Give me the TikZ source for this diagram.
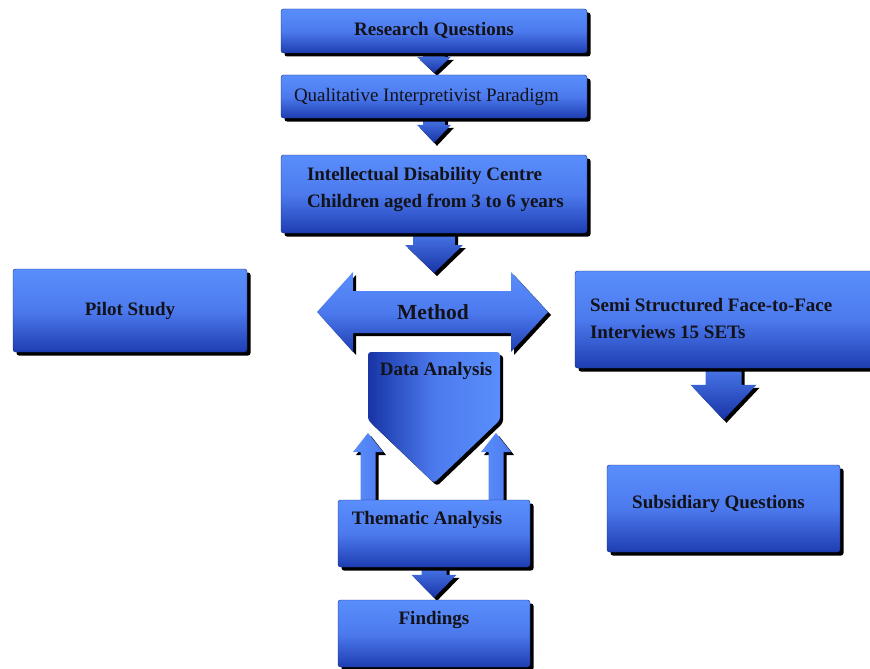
\documentclass[tikz,border=0pt]{standalone}
\usepackage{fontspec}
\setmainfont{Liberation Serif}
\usetikzlibrary{calc,shadows}
\definecolor{bxtop}{RGB}{90,142,252}
\definecolor{bxmid}{RGB}{76,122,238}
\definecolor{bxbot}{RGB}{30,62,178}
\definecolor{artop}{RGB}{72,118,232}
\definecolor{arbot}{RGB}{24,52,165}
\definecolor{txt}{RGB}{18,18,24}
\newcommand\blkshape[3]{($(bs)+({-(#1)},0)$) -- ($(bt)+({-(#1)},{-(#3)})$) -- ($(bt)+({-(#2)},{-(#3)})$) -- (bt) -- ($(bt)+(#2,{-(#3)})$) -- ($(bt)+(#1,{-(#3)})$) -- ($(bs)+(#1,0)$) -- cycle}
\newcommand\blkarrow[6]{%
  \coordinate (bt) at #2;
  \coordinate (bs) at (#1 -| bt);
  \fill[black, transform canvas={shift={(3pt,-3pt)}}] \blkshape{#3}{#4}{#5};
  \shade[#6] \blkshape{#3}{#4}{#5};
}
\tikzset{
  box/.style={rectangle, rounded corners=2.5pt, top color=bxtop, bottom color=bxbot, middle color=bxmid,
    draw=bxbot!70!black, line width=0.4pt, inner sep=0pt,
    drop shadow={fill=black, opacity=1, shadow xshift=3.5pt, shadow yshift=-3.5pt}},
  lbl/.style={font=\bfseries\fontsize{19}{27}\selectfont, text=txt, inner sep=0pt, align=left},
  arshade/.style={top color=artop, bottom color=arbot},
  upshade/.style={left color=bxtop, right color=bxmid},
}
\begin{document}
\begin{tikzpicture}[x=1pt,y=-1pt]
\useasboundingbox (0,0) rectangle (870,669);
% coordinates for box positions
\coordinate (prq) at (434,31);
\coordinate (pqp) at (434,96.5);
\coordinate (pidc) at (434,194);
% boxes (defined first as nodes but drawn after arrows via layering order)
\path (prq) node[minimum width=306pt, minimum height=44pt] (rq0) {};
\path (pqp) node[minimum width=306pt, minimum height=43pt] (qp0) {};
\path (pidc) node[minimum width=306pt, minimum height=78pt] (idc0) {};
\path (434,533.5) node[minimum width=192pt, minimum height=67pt] (th0) {};
\path (434,633.5) node[minimum width=192pt, minimum height=67pt] (fi0) {};
\path (725,319.5) node[minimum width=300pt, minimum height=97pt] (se0) {};
\path (723.5,508.5) node[minimum width=233pt, minimum height=87pt] (sq0) {};
% block arrows
\blkarrow{rq0.south}{($(qp0.north)+(0,-2)$)}{11}{17}{16}{arshade}
\blkarrow{qp0.south}{($(idc0.north)+(0,-12)$)}{11}{17}{18}{arshade}
\blkarrow{idc0.south}{(434,273)}{21}{29}{28}{arshade}
\blkarrow{se0.south}{($(sq0.north)+(0,-45)$)}{18}{33}{35}{arshade}
\blkarrow{th0.south}{($(fi0.north)+(0,-2)$)}{12.5}{22.5}{23}{arshade}
\blkarrow{th0.north}{(368,433)}{7.5}{15}{-19}{upshade}
\blkarrow{th0.north}{(496,433)}{7.5}{15}{-19}{upshade}
% method double arrow
\fill[black, transform canvas={shift={(3pt,-3pt)}}] (317,312) -- (353,272) -- (353,291) -- (511,291) -- (511,272) -- (548,312) -- (511,352) -- (511,333) -- (353,333) -- (353,352) -- cycle;
\shade[top color=bxtop, bottom color=bxbot, middle color=bxmid] (317,312) -- (353,272) -- (353,291) -- (511,291) -- (511,272) -- (548,312) -- (511,352) -- (511,333) -- (353,333) -- (353,352) -- cycle;
\node[lbl, font=\bfseries\fontsize{21.5}{26}\selectfont] (meth) at (433,312) {Method};
% data analysis pentagon
\fill[black, rounded corners=3pt, transform canvas={shift={(3pt,-3pt)}}] (368,352) -- (500,352) -- (500,420) -- (434,483) -- (368,420) -- cycle;
\shade[rounded corners=3pt, left color=arbot, right color=bxtop, middle color=bxmid] (368,352) -- (500,352) -- (500,420) -- (434,483) -- (368,420) -- cycle;
\node[lbl] (da) at (436,371) {Data Analysis};
% boxes
\node[box, minimum width=306pt, minimum height=44pt] (rq) at (prq) {};
\node[lbl] (rqt) at ($(rq.center)+(0,-1)$) {Research Questions};
\node[box, minimum width=306pt, minimum height=43pt] (qp) at (pqp) {};
\node[lbl, font=\fontsize{19}{27}\selectfont, anchor=west] (qpt) at ($(qp.west)+(13,0.5)$) {Qualitative Interpretivist Paradigm};
\node[box, minimum width=306pt, minimum height=78pt] (idc) at (pidc) {};
\node[lbl, anchor=west] (idct) at ($(idc.west)+(26,-4)$) {Intellectual Disability Centre\\Children aged from 3 to 6 years};
\node[box, minimum width=234pt, minimum height=83pt] (pilot) at (130,310.5) {};
\node[lbl] (pilott) at (pilot.center) {Pilot Study};
\node[box, minimum width=300pt, minimum height=97pt] (se) at (se0) {};
\node[lbl, anchor=west] (set) at ($(se.west)+(15,-1)$) {Semi Structured Face-to-Face\\Interviews 15 SETs};
\node[box, minimum width=233pt, minimum height=87pt] (sq) at (sq0) {};
\node[lbl] (sqt) at ($(sq.center)+(-5,-5)$) {Subsidiary Questions};
\node[box, minimum width=192pt, minimum height=67pt] (th) at (th0) {};
\node[lbl] (tht) at ($(th.north)+(-7,20)$) {Thematic Analysis};
\node[box, minimum width=192pt, minimum height=67pt] (fi) at (fi0) {};
\node[lbl] (fit) at ($(fi.north)+(0,20)$) {Findings};
\end{tikzpicture}
\end{document}
